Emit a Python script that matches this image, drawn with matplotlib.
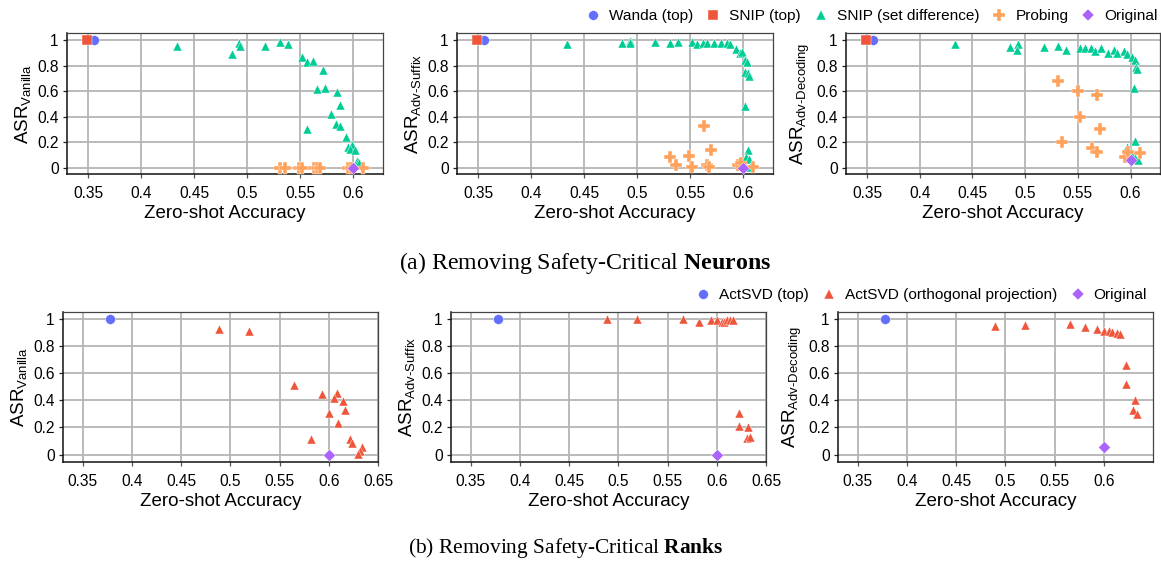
import numpy as np
import matplotlib
matplotlib.use("Agg")
from matplotlib import pyplot as plt
from matplotlib.lines import Line2D

# colours (plotly-ish palette used in the reference)
C_BLUE = "#636EFA"
C_RED = "#EF553B"
C_GREEN = "#00CC96"
C_ORANGE = "#FFA15A"
C_PURPLE = "#AB63FA"

# ---------------- (a) neurons ----------------
wanda_top = (0.3557, 1.0)
snip_top = (0.349, 1.0)
orig_neuron_x = 0.600
orig_neuron_y = [0.0, 0.0, 0.06]

snip_diff_vanilla_x = [0.434, 0.4857, 0.4926, 0.493, 0.517, 0.531, 0.538, 0.5513, 0.5562, 0.5616,
                       0.571, 0.566, 0.573, 0.5846, 0.587, 0.579, 0.5562, 0.584, 0.5877, 0.5928,
                       0.5946, 0.599, 0.597, 0.6016, 0.603, 0.6047, 0.605]
snip_diff_vanilla_y = [0.956, 0.888, 0.979, 0.956, 0.956, 0.984, 0.966, 0.864, 0.828, 0.836,
                       0.765, 0.614, 0.621, 0.595, 0.493, 0.42, 0.303, 0.342, 0.326, 0.243,
                       0.164, 0.18, 0.149, 0.136, 0.052, 0.044, 0.034]

snip_diff_suffix_x = [0.434, 0.4857, 0.493, 0.493, 0.517, 0.531, 0.538, 0.5513, 0.556, 0.5616,
                      0.566, 0.572, 0.579, 0.5846, 0.587, 0.5928, 0.5965, 0.599, 0.6016, 0.6035,
                      0.602, 0.604, 0.605, 0.6016, 0.604, 0.603, 0.605, 0.597, 0.606]
snip_diff_suffix_y = [0.966, 0.979, 0.995, 0.974, 0.987, 0.979, 0.987, 0.987, 0.966, 0.974,
                      0.974, 0.979, 0.979, 0.974, 0.966, 0.927, 0.896, 0.909, 0.843, 0.83,
                      0.75, 0.744, 0.718, 0.483, 0.138, 0.086, 0.065, 0.034, 0.008]

snip_diff_decoding_x = [0.4337, 0.4854, 0.493, 0.492, 0.5176, 0.5315, 0.5385, 0.552, 0.557, 0.562,
                        0.566, 0.572, 0.5785, 0.5845, 0.5867, 0.594, 0.5965, 0.6016, 0.604, 0.6047,
                        0.606, 0.6028, 0.6044, 0.5965, 0.601, 0.604, 0.607]
snip_diff_decoding_y = [0.966, 0.948, 0.966, 0.92, 0.943, 0.953, 0.922, 0.94, 0.94, 0.94,
                        0.914, 0.94, 0.90, 0.922, 0.896, 0.914, 0.89, 0.87, 0.843, 0.79,
                        0.773, 0.627, 0.209, 0.164, 0.112, 0.073, 0.06]

probing_vanilla_x = [0.531, 0.536, 0.549, 0.552, 0.563, 0.566, 0.569, 0.5946, 0.598, 0.609]
probing_vanilla_y = [0.0, 0.0, 0.0, 0.0, 0.0, 0.0, 0.0, 0.0, 0.0, 0.0]

probing_suffix_x = [0.531, 0.5364, 0.549, 0.552, 0.563, 0.570, 0.566, 0.568, 0.5946, 0.598, 0.609]
probing_suffix_y = [0.086, 0.018, 0.094, 0.008, 0.329, 0.138, 0.018, 0.008, 0.018, 0.034, 0.008]

probing_decoding_x = [0.5315, 0.5353, 0.5498, 0.5523, 0.563, 0.5684, 0.5678, 0.5706, 0.5946, 0.5975, 0.609]
probing_decoding_y = [0.681, 0.198, 0.60, 0.40, 0.154, 0.567, 0.12, 0.305, 0.086, 0.125, 0.117]

# ---------------- (b) ranks ----------------
actsvd_top = (0.3775, 1.0)
orig_rank_x = 0.600
orig_rank_y = [0.0, 0.0, 0.059]

orth_vanilla_x = [0.4882, 0.5187, 0.5648, 0.5932, 0.6088, 0.605, 0.6146, 0.6162, 0.600, 0.6095,
                  0.5817, 0.622, 0.6237, 0.634, 0.632, 0.630]
orth_vanilla_y = [0.923, 0.913, 0.515, 0.443, 0.453, 0.413, 0.396, 0.327, 0.304, 0.233,
                  0.114, 0.111, 0.082, 0.052, 0.025, 0.007]

orth_suffix_x = [0.4889, 0.5193, 0.5655, 0.5814, 0.5936, 0.6003, 0.6054, 0.6078, 0.610, 0.6135,
                 0.616, 0.6223, 0.6226, 0.6318, 0.6304, 0.6338]
orth_suffix_y = [0.998, 1.0, 1.0, 0.975, 0.988, 0.993, 0.975, 0.98, 0.993, 0.993,
                 0.988, 0.304, 0.213, 0.205, 0.119, 0.126]

orth_decoding_x = [0.4894, 0.5195, 0.5655, 0.5814, 0.5936, 0.600, 0.6054, 0.608, 0.6139, 0.6162,
                   0.6227, 0.623, 0.6321, 0.6298, 0.6338]
orth_decoding_y = [0.950, 0.955, 0.960, 0.943, 0.923, 0.911, 0.911, 0.901, 0.894, 0.886,
                   0.658, 0.522, 0.403, 0.329, 0.30]

ylabels = [r"ASR$_{\mathrm{Vanilla}}$", r"ASR$_{\mathrm{Adv\text{-}Suffix}}$",
           r"ASR$_{\mathrm{Adv\text{-}Decoding}}$"]
xticks_top = [0.35, 0.4, 0.45, 0.5, 0.55, 0.6]
xticks_bot = [0.35, 0.4, 0.45, 0.5, 0.55, 0.6, 0.65]
yticks = [0, 0.2, 0.4, 0.6, 0.8, 1]


def fmt(v):
    s = ("%.2f" % v).rstrip("0").rstrip(".")
    return s


def style_axes(ax, ylabel, xticks, xlim, ylim):
    ax.set_xlim(*xlim)
    ax.set_ylim(*ylim)
    ax.set_xticks(xticks)
    ax.set_xticklabels([fmt(v) for v in xticks])
    ax.set_yticks(yticks)
    ax.set_yticklabels([fmt(v) for v in yticks])
    ax.grid(True, color="#b4b4b4", linewidth=1.3)
    ax.set_axisbelow(True)
    ax.tick_params(axis="x", labelsize=11.2, length=3, width=0.9, color="#555555", pad=5.5)
    ax.tick_params(axis="y", labelsize=11.2, length=3, width=0.9, color="#222222", pad=3)
    for sp in ax.spines.values():
        sp.set_color("#444444")
        sp.set_linewidth(0.9)
    for k in ("left", "bottom"):
        ax.spines[k].set_color("#111111")
        ax.spines[k].set_linewidth(1.1)
    ax.set_xlabel("Zero-shot Accuracy", fontsize=13.5, labelpad=3)
    ax.set_ylabel(ylabel, fontsize=13.5, labelpad=3)


def main():
    plt.rcParams['font.family'] = ['Liberation Sans', 'DejaVu Sans']
    plt.rcParams['mathtext.fontset'] = 'custom'
    plt.rcParams['mathtext.rm'] = 'Liberation Sans'
    plt.rcParams['mathtext.it'] = 'Liberation Sans:italic'
    plt.rcParams['mathtext.bf'] = 'Liberation Serif:bold'

    fig = plt.figure(figsize=(11.61, 5.63), dpi=100)

    top_pos = [(0.0577, 0.691, 0.2722, 0.2504),
               (0.3936, 0.691, 0.2722, 0.2504),
               (0.7287, 0.691, 0.2705, 0.2504)]
    bot_pos = [(0.0543, 0.1794, 0.2713, 0.2664),
               (0.3885, 0.1794, 0.2713, 0.2664),
               (0.7218, 0.1794, 0.2713, 0.2664)]

    snip_x = [snip_diff_vanilla_x, snip_diff_suffix_x, snip_diff_decoding_x]
    snip_y = [snip_diff_vanilla_y, snip_diff_suffix_y, snip_diff_decoding_y]
    prob_x = [probing_vanilla_x, probing_suffix_x, probing_decoding_x]
    prob_y = [probing_vanilla_y, probing_suffix_y, probing_decoding_y]

    ms = 42
    for i in range(3):
        ax = fig.add_axes(top_pos[i])
        ax.scatter(snip_x[i], snip_y[i], marker="^", s=ms, color=C_GREEN, edgecolors="white",
                   linewidths=0.3, zorder=3)
        ax.scatter(prob_x[i], prob_y[i], marker="P", s=75, color=C_ORANGE, edgecolors="white",
                   linewidths=0.3, zorder=3)
        ax.scatter([orig_neuron_x], [orig_neuron_y[i]], marker="D", s=38, color=C_PURPLE,
                   edgecolors="white", linewidths=0.3, zorder=4)
        ax.scatter([wanda_top[0]], [wanda_top[1]], marker="o", s=50, color=C_BLUE,
                   edgecolors="white", linewidths=0.3, zorder=4)
        ax.scatter([snip_top[0]], [snip_top[1]], marker="s", s=55, color=C_RED,
                   edgecolors="white", linewidths=0.3, zorder=5)
        style_axes(ax, ylabels[i], xticks_top, (0.33, 0.628), (-0.05, 1.055))

    orth_x = [orth_vanilla_x, orth_suffix_x, orth_decoding_x]
    orth_y = [orth_vanilla_y, orth_suffix_y, orth_decoding_y]
    for i in range(3):
        ax = fig.add_axes(bot_pos[i])
        ax.scatter(orth_x[i], orth_y[i], marker="^", s=ms, color=C_RED, edgecolors="white",
                   linewidths=0.3, zorder=3)
        ax.scatter([orig_rank_x], [orig_rank_y[i]], marker="D", s=38, color=C_PURPLE,
                   edgecolors="white", linewidths=0.3, zorder=4)
        ax.scatter([actsvd_top[0]], [actsvd_top[1]], marker="o", s=50, color=C_BLUE,
                   edgecolors="white", linewidths=0.3, zorder=4)
        ticks = xticks_bot if i < 2 else xticks_bot[:-1]
        style_axes(ax, ylabels[i], ticks, (0.33, 0.65), (-0.055, 1.05))

    # legends
    def h(marker, color, size):
        return Line2D([], [], linestyle="none", marker=marker, color=color, markersize=size,
                      markeredgecolor="white", markeredgewidth=0.3)

    top_handles = [h("o", C_BLUE, 7), h("s", C_RED, 7), h("^", C_GREEN, 7),
                   h("P", C_ORANGE, 9), h("D", C_PURPLE, 6)]
    top_labels = ["Wanda (top)", "SNIP (top)", "SNIP (set difference)", "Probing", "Original"]
    fig.legend(top_handles, top_labels, loc="center right", bbox_to_anchor=(0.9974, 0.9716),
               ncol=5, frameon=False, fontsize=11.1, handletextpad=0.54, columnspacing=0.8,
               handlelength=1.0, borderaxespad=0, borderpad=0)

    bot_handles = [h("o", C_BLUE, 7), h("^", C_RED, 7), h("D", C_PURPLE, 6)]
    bot_labels = ["ActSVD (top)", "ActSVD (orthogonal projection)", "Original"]
    fig.legend(bot_handles, bot_labels, loc="center right", bbox_to_anchor=(0.988, 0.476),
               ncol=3, frameon=False, fontsize=11.1, handletextpad=0.54, columnspacing=0.8,
               handlelength=1.0, borderaxespad=0, borderpad=0)

    fig.text(0.504, 0.533, r"(a) Removing Safety-Critical $\mathbf{Neurons}$",
             family="Liberation Serif", fontsize=17.2, ha="center", va="center")
    fig.text(0.4875, 0.027, r"(b) Removing Safety-Critical $\mathbf{Ranks}$",
             family="Liberation Serif", fontsize=15.4, ha="center", va="center")

    plt.savefig("out.png", dpi=100)


if __name__ == "__main__":
    main()
